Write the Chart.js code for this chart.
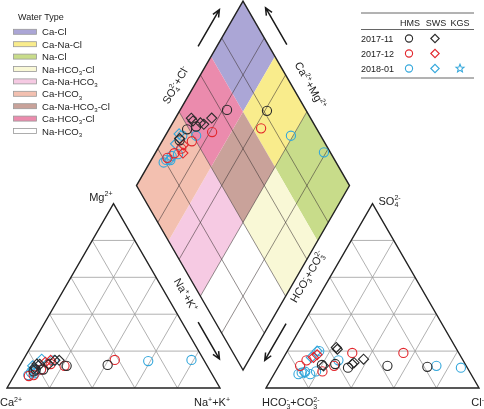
<!DOCTYPE html>
<html>
<head>
<meta charset="utf-8">
<script src="https://cdn.jsdelivr.net/npm/chart.js@4.4.0/dist/chart.umd.min.js"></script>
<style>
  html, body { margin: 0; padding: 0; background: #fff; }
  canvas { display: block; }
</style>
</head>
<body>
<canvas id="piper" width="484" height="409"></canvas>
<script>
// water types shown in the diamond (legend order)
const waterTypes = ["Ca-Cl", "Ca-Na-Cl", "Na-Cl", "Na-HCO3-Cl", "Ca-Na-HCO3", "Ca-HCO3", "Ca-Na-HCO3-Cl", "Ca-HCO3-Cl", "Na-HCO3"];
const waterColors = ["#aba6d6", "#f9ec8c", "#c8dc8a", "#f9f8d6", "#f6cae3", "#f3c0b0", "#c9a29a", "#eb8bad", "#ffffff"];
// class limits: [Ca+Mg from, to, SO4+Cl from, to] in %
const waterRanges = [[70, 100, 70, 100], [40, 70, 70, 100], [0, 40, 70, 100], [0, 40, 40, 70], [40, 70, 0, 40], [70, 100, 0, 40], [40, 70, 40, 70], [70, 100, 40, 70], [0, 40, 0, 40]];

const gridTicks = [20, 40, 60, 80];
const sites = ["HMS", "SWS", "KGS"];
const dates = ["2017-11", "2017-12", "2018-01"];
const dateColors = ["#2a2a2a", "#e2262c", "#35a8dc"];

// samples: [Mg, Na+K, SO4, Cl] in meq %
const hms201711 = [[12.5, 41, 11.5, 70], [12, 22, 12, 51], [10, 12, 11, 33], [9, 8, 12.5, 20], [10, 8.5, 13, 26]];
const sws201711 = [[13, 7.5, 22, 22], [12.8, 9, 21, 23], [12.8, 13, 13, 34], [15, 17, 15.6, 38], [15, 15, 13.7, 34.5], [11, 7.5, 12, 21]];
const hms201712 = [[15.2, 43, 19, 55], [12, 21, 19, 31], [13, 14, 12, 26], [10, 11, 9, 22], [6.5, 7, 12, 10], [7, 9, 15, 11.5]];
const sws201712 = [[15, 13, 16.6, 14], [14, 11, 18, 15]];
const hms201801 = [[14.6, 59, 12, 74], [15.2, 79, 11, 86], [10, 8, 20, 15], [15, 14.5, 15, 26.5], [10, 11, 9, 19], [9, 8.5, 7.5, 17], [7, 6.5, 7.5, 11.5], [8.5, 7, 8.3, 12.6], [8, 9, 8.8, 14]];
const sws201801 = [[15.6, 8.5, 8.3, 14], [10.3, 7, 16.6, 13], [12, 6, 20, 14]];

// layout of the three plots (unit = side of a triangle)
const H = Math.sqrt(3) / 2;
const GAP = 46 / 213;
const DX = 1 + GAP / 2, DY = 18 / 213;
const XMIN = -7 / 213, XMAX = 477 / 213, YMIN = -21 / 213, YMAX = 388 / 213;

const FONT = '"Liberation Sans", Arial, sans-serif';
const TXT = "#222";

function cationXY(mg, na) { return { x: na / 100 + mg / 200, y: mg / 100 * H }; }
function anionXY(so4, cl) { return { x: 1 + GAP + cl / 100 + so4 / 200, y: so4 / 100 * H }; }
function diamondXY(cam, scl) { return { x: DX + (scl - cam) / 200, y: DY + (cam + scl) / 100 * H }; }

function toPoints(rows) {
  const pts = [];
  rows.forEach(([mg, na, so4, cl]) => {
    pts.push(cationXY(mg, na), anionXY(so4, cl), diamondXY(100 - na, so4 + cl));
  });
  return pts;
}

const groups = [
  { label: "HMS 2017-11", rows: hms201711, style: "circle", color: dateColors[0] },
  { label: "SWS 2017-11", rows: sws201711, style: "rectRot", color: dateColors[0] },
  { label: "HMS 2017-12", rows: hms201712, style: "circle", color: dateColors[1] },
  { label: "SWS 2017-12", rows: sws201712, style: "rectRot", color: dateColors[1] },
  { label: "HMS 2018-01", rows: hms201801, style: "circle", color: dateColors[2] },
  { label: "SWS 2018-01", rows: sws201801, style: "rectRot", color: dateColors[2] },
];

// rich text: parts = [text, 0 normal | 1 sup | -1 sub]
function layoutRich(ctx, parts, size) {
  const small = size * 0.64;
  let cur = 0, subStart = null;
  const out = [];
  parts.forEach(([t, k]) => {
    const font = (k ? small : size) + "px " + FONT;
    ctx.font = font;
    const tw = ctx.measureText(t).width;
    let x0 = cur;
    if (k === 1 && subStart !== null) { x0 = subStart; cur = Math.max(cur, x0 + tw); }
    else cur += tw;
    subStart = k === -1 ? x0 : null;
    const dy = k === 1 ? -size * 0.4 : k === -1 ? size * 0.24 : 0;
    out.push({ t, font, x: x0, dy });
  });
  return { items: out, width: cur };
}
function rich(ctx, parts, x, y, size, align) {
  const lay = layoutRich(ctx, parts, size);
  const x0 = align === "center" ? x - lay.width / 2 : align === "right" ? x - lay.width : x;
  ctx.textAlign = "left";
  ctx.textBaseline = "alphabetic";
  ctx.fillStyle = TXT;
  lay.items.forEach(it => { ctx.font = it.font; ctx.fillText(it.t, x0 + it.x, y + it.dy); });
}

const lblSO4Cl = [["SO", 0], ["4", -1], ["2-", 1], ["+Cl", 0], ["-", 1]];
const lblCaMg = [["Ca", 0], ["2+", 1], ["+Mg", 0], ["2+", 1]];
const lblNaK = [["Na", 0], ["+", 1], ["+K", 0], ["+", 1]];
const lblHCO3 = [["HCO", 0], ["3", -1], ["-", 1], ["+CO", 0], ["3", -1], ["2-", 1]];

function edgePt(p, q, t, d) {
  const ex = q.x - p.x, ey = q.y - p.y, len = Math.hypot(ex, ey);
  let nx = -ey / len, ny = ex / len;
  const mx = p.x + ex / 2 - DX, my = p.y + ey / 2 - (DY + H);
  if (nx * mx + ny * my < 0) { nx = -nx; ny = -ny; }
  return { x: p.x + ex * t + nx * d, y: p.y + ey * t + ny * d };
}

function arrow(ctx, x1, y1, x2, y2) {
  const a = Math.atan2(y2 - y1, x2 - x1), h = 8;
  ctx.beginPath();
  ctx.moveTo(x1, y1); ctx.lineTo(x2, y2);
  ctx.moveTo(x2 - h * Math.cos(a - 0.42), y2 - h * Math.sin(a - 0.42));
  ctx.lineTo(x2, y2);
  ctx.lineTo(x2 - h * Math.cos(a + 0.42), y2 - h * Math.sin(a + 0.42));
  ctx.stroke();
}

function star(ctx, x, y, r) {
  ctx.beginPath();
  for (let i = 0; i < 10; i++) {
    const rr = i % 2 ? r * 0.45 : r;
    const a = -Math.PI / 2 + i * Math.PI / 5;
    const px = x + rr * Math.cos(a), py = y + rr * Math.sin(a);
    i ? ctx.lineTo(px, py) : ctx.moveTo(px, py);
  }
  ctx.closePath();
  ctx.stroke();
}

const piperFrame = {
  id: "piperFrame",
  beforeDatasetsDraw(chart) {
    const { ctx, scales: { x, y } } = chart;
    const P = p => [x.getPixelForValue(p.x), y.getPixelForValue(p.y)];
    const poly = pts => { ctx.beginPath(); pts.forEach((p, i) => { const [a, b] = P(p); i ? ctx.lineTo(a, b) : ctx.moveTo(a, b); }); ctx.closePath(); };
    const line = (p, q) => { const [a, b] = P(p), [c, d] = P(q); ctx.beginPath(); ctx.moveTo(a, b); ctx.lineTo(c, d); ctx.stroke(); };
    ctx.save();

    // diamond classes
    waterRanges.forEach(([c0, c1, s0, s1], i) => {
      poly([diamondXY(c0, s0), diamondXY(c1, s0), diamondXY(c1, s1), diamondXY(c0, s1)]);
      ctx.fillStyle = waterColors[i];
      ctx.fill();
    });

    // grids
    ctx.lineWidth = 0.8;
    ctx.strokeStyle = "rgba(60,50,50,0.7)";
    gridTicks.forEach(g => {
      line(diamondXY(g, 0), diamondXY(g, 100));
      line(diamondXY(0, g), diamondXY(100, g));
    });
    ctx.strokeStyle = "#9d9d9d";
    gridTicks.forEach(g => {
      line(cationXY(g, 0), cationXY(g, 100 - g));
      line(cationXY(0, g), cationXY(100 - g, g));
      line(cationXY(0, 100 - g), cationXY(100 - g, 0));
      line(anionXY(g, 0), anionXY(g, 100 - g));
      line(anionXY(0, g), anionXY(100 - g, g));
      line(anionXY(0, 100 - g), anionXY(100 - g, 0));
    });

    // outlines
    ctx.lineWidth = 1.4;
    ctx.strokeStyle = "#222";
    ctx.lineJoin = "miter";
    poly([cationXY(0, 0), cationXY(0, 100), cationXY(100, 0)]); ctx.stroke();
    poly([anionXY(0, 0), anionXY(0, 100), anionXY(100, 0)]); ctx.stroke();
    poly([diamondXY(0, 0), diamondXY(100, 0), diamondXY(100, 100), diamondXY(0, 100)]); ctx.stroke();
    ctx.restore();
  },
  afterDraw(chart) {
    const { ctx, scales: { x, y } } = chart;
    const P = p => [x.getPixelForValue(p.x), y.getPixelForValue(p.y)];
    ctx.save();

    // diamond axis titles and arrows
    const dB = diamondXY(0, 0), dL = diamondXY(100, 0), dR = diamondXY(0, 100), dT = diamondXY(100, 100);
    const axes = [
      { from: dL, to: dT, t: 0.5, d: 0.078, rot: -60, parts: lblSO4Cl, arr: [0.71, 0.91, 0.076] },
      { from: dR, to: dT, t: 0.5, d: 0.078, rot: 60, parts: lblCaMg, arr: [0.72, 0.92, 0.076] },
      { from: dL, to: dB, t: 0.56, d: 0.055, rot: 60, parts: lblNaK, arr: [0.70, 0.90, 0.07] },
      { from: dR, to: dB, t: 0.47, d: 0.042, rot: -60, parts: lblHCO3, arr: [0.71, 0.91, 0.066] },
    ];
    ctx.lineWidth = 1.5;
    ctx.strokeStyle = "#1a1a1a";
    axes.forEach(a => {
      const [cx, cy] = P(edgePt(a.from, a.to, a.t, a.d));
      ctx.save();
      ctx.translate(cx, cy);
      ctx.rotate(a.rot * Math.PI / 180);
      rich(ctx, a.parts, 0, 11 * 0.36, 11, "center");
      ctx.restore();
      const [x1, y1] = P(edgePt(a.from, a.to, a.arr[0], a.arr[2]));
      const [x2, y2] = P(edgePt(a.from, a.to, a.arr[1], a.arr[2]));
      arrow(ctx, x1, y1, x2, y2);
    });

    // triangle corner labels
    let [px, py] = P(cationXY(100, 0));
    rich(ctx, [["Mg", 0], ["2+", 1]], px - 1, py - 3, 11, "right");
    [px, py] = P(cationXY(0, 0));
    rich(ctx, [["Ca", 0], ["2+", 1]], px - 7, py + 18, 11, "left");
    [px, py] = P(cationXY(0, 100));
    rich(ctx, lblNaK, px - 8, py + 18, 11, "center");
    [px, py] = P(anionXY(100, 0));
    rich(ctx, [["SO", 0], ["4", -1], ["2-", 1]], px + 6, py + 1, 11, "left");
    [px, py] = P(anionXY(0, 0));
    rich(ctx, lblHCO3, px - 4, py + 18, 11, "left");
    [px, py] = P(anionXY(0, 100));
    rich(ctx, [["Cl", 0], ["-", 1]], px + 5, py + 18, 11, "right");

    // water type legend
    ctx.fillStyle = TXT;
    ctx.font = "9px " + FONT;
    ctx.textAlign = "left";
    ctx.textBaseline = "alphabetic";
    ctx.fillText("Water Type", 18, 20);
    waterTypes.forEach((name, i) => {
      const yy = 31.8 + i * 12.4;
      ctx.fillStyle = waterColors[i];
      ctx.fillRect(13.5, yy - 2.5, 23, 5);
      ctx.strokeStyle = "#9a9a9a";
      ctx.lineWidth = 0.8;
      ctx.strokeRect(13.5, yy - 2.5, 23, 5);
      const parts = name.split(/(3)/).filter(Boolean).map(p => [p, p === "3" ? -1 : 0]);
      rich(ctx, parts, 42, yy + 3.5, 9.6, "left");
    });

    // sampling legend table
    ctx.strokeStyle = "#555";
    ctx.lineWidth = 0.9;
    [13, 29.5, 78].forEach(yy => { ctx.beginPath(); ctx.moveTo(361, yy); ctx.lineTo(474, yy); ctx.stroke(); });
    const colX = [410, 436, 460];
    ctx.fillStyle = TXT;
    ctx.font = "9px " + FONT;
    ctx.textAlign = "center";
    sites.forEach((s, i) => ctx.fillText(s, colX[i], 26));
    dates.forEach((d, r) => {
      const yy = 38.5 + r * 15;
      ctx.fillStyle = TXT;
      ctx.textAlign = "left";
      ctx.fillText(d, 361, yy + 3.2);
      ctx.strokeStyle = dateColors[r];
      ctx.fillStyle = "rgba(0,0,0,0)";
      ctx.lineWidth = 1.1;
      Chart.helpers.drawPoint(ctx, { pointStyle: "circle", radius: 3.6, rotation: 0, borderWidth: 1.1 }, 409, yy);
      Chart.helpers.drawPoint(ctx, { pointStyle: "rectRot", radius: 4.2, rotation: 0, borderWidth: 1.1 }, 435, yy);
      if (r === 2) star(ctx, 460, yy, 4.2);
    });
    ctx.restore();
  }
};

new Chart(document.getElementById("piper"), {
  type: "scatter",
  data: {
    datasets: groups.map(g => ({
      label: g.label,
      data: toPoints(g.rows),
      showLine: false,
      pointStyle: g.style,
      pointRadius: g.style === "circle" ? 4.6 : 5,
      pointHoverRadius: 0,
      pointBorderWidth: 1.1,
      borderColor: g.color,
      backgroundColor: "rgba(0,0,0,0)",
    })),
  },
  options: {
    responsive: false,
    animation: false,
    devicePixelRatio: 1,
    events: [],
    layout: { padding: 0, autoPadding: false },
    scales: {
      x: { type: "linear", display: false, min: XMIN, max: XMAX },
      y: { type: "linear", display: false, min: YMIN, max: YMAX },
    },
    plugins: {
      legend: { display: false },
      tooltip: { enabled: false },
    },
  },
  plugins: [piperFrame],
});
</script>
</body>
</html>
